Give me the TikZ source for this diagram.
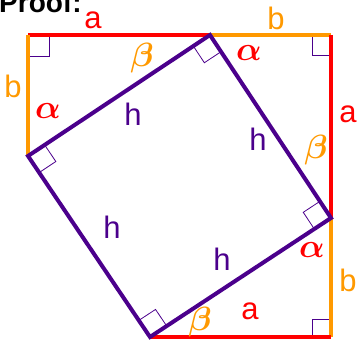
\documentclass[tikz,border=0pt]{standalone}
\usepackage{graphicx}
\usepackage{fontspec}
\setmainfont{Liberation Sans}
\usetikzlibrary{calc}
\definecolor{cred}{RGB}{255,0,0}
\definecolor{corange}{RGB}{255,153,0}
\definecolor{cpurple}{RGB}{75,0,140}
\newcommand{\glyphbig}[1]{\scalebox{1.35}{$#1$}}
\begin{document}
\begin{tikzpicture}[x=1pt,y=-1pt,
  side/.style={line width=4pt},
  hyp/.style={line width=4pt,draw=cpurple,line join=miter},
  rmark/.style={draw=cpurple,line width=0.8pt},
  lab/.style={font=\fontsize{31}{32}\selectfont,inner sep=0pt},
  glab/.style={font=\fontsize{24.88}{26}\selectfont\boldmath,inner sep=0pt}]
\useasboundingbox (0,0) rectangle (357,340);
% corners
\coordinate (TL) at (28,35);
\coordinate (TR) at (331,35);
\coordinate (BR) at (331,337);
\coordinate (P1) at (210,35);
\coordinate (P2) at (331,218);
\coordinate (P3) at (150,337);
\coordinate (P4) at (28,156);
% title (cut by the page edge)
\node[anchor=base west,inner sep=0pt,font=\fontsize{28}{30}\selectfont\bfseries] (title) at (-1,12.5) {Proof:};
% outer right-angle marks
\draw[rmark] ($(TL)+(0,21)$) -- ($(TL)+(21,21)$) -- ($(TL)+(21,0)$);
\draw[rmark] ($(TR)+(-19,0)$) -- ($(TR)+(-19,20)$) -- ($(TR)+(0,20)$);
\draw[rmark] ($(BR)+(-19,0)$) -- ($(BR)+(-19,-18)$) -- ($(BR)+(0,-18)$);
% inner right-angle marks
\foreach \p/\a/\b in {P1/P2/P4,P2/P3/P1,P3/P4/P2,P4/P1/P3}{
  \coordinate (ma) at ($(\p)!20pt!(\a)$);
  \coordinate (mb) at ($(\p)!20pt!(\b)$);
  \draw[rmark] (ma) -- ($(ma)+(mb)-(\p)$) -- (mb);
}
% sides of the outer square
\draw[side,cred] (TL) -- (P1);
\draw[side,corange] (P1) -- (TR);
\draw[side,cred] (TR) -- (P2);
\draw[side,corange] (P2) -- (BR);
\draw[side,cred] (P3) -- (BR);
\draw[side,corange] (TL) -- (P4);
% inner square
\draw[hyp] (P1) -- (P2) -- (P3) -- (P4) -- cycle;
% labels
\node[lab,text=cred] (la1) at (93,20) {a};
\node[lab,text=corange] (lb1) at (13,86) {b};
\node[lab,text=corange] (lb2) at (276,18) {b};
\node[lab,text=cred] (la2) at (348,114) {a};
\node[lab,text=corange] (lb3) at (348,280) {b};
\node[lab,text=cred] (la3) at (250,311) {a};
\node[lab,text=cpurple] (h1) at (133,114) {h};
\node[lab,text=cpurple] (h2) at (258,139) {h};
\node[lab,text=cpurple] (h3) at (112,227) {h};
\node[lab,text=cpurple] (h4) at (222,259) {h};
\node[glab,text=cred] (al1) at (48,111) {\glyphbig{\alpha}};
\node[glab,text=cred] (al2) at (249,53) {\glyphbig{\alpha}};
\node[glab,text=cred] (al3) at (312,250) {\glyphbig{\alpha}};
\node[glab,text=corange] (be1) at (142,58) {\glyphbig{\beta}};
\node[glab,text=corange] (be2) at (316,150) {\glyphbig{\beta}};
\node[glab,text=corange] (be3) at (200,322) {\glyphbig{\beta}};
\end{tikzpicture}
\end{document}
